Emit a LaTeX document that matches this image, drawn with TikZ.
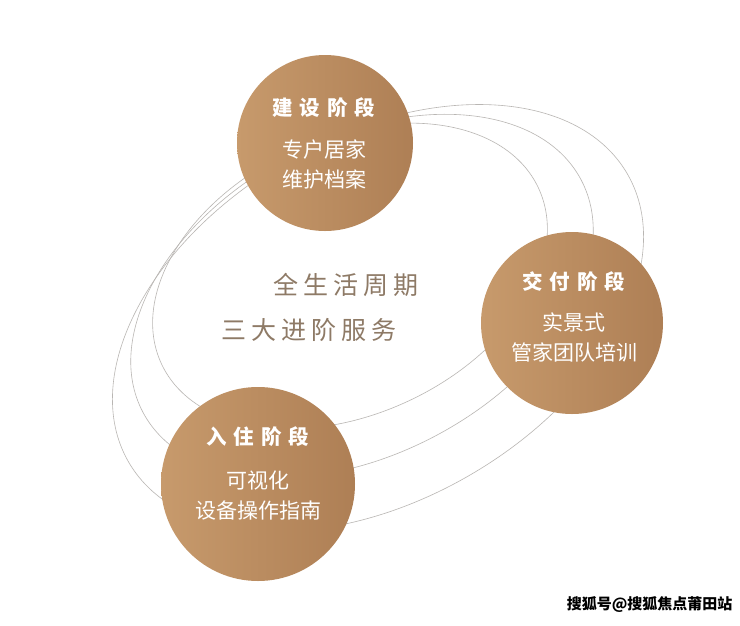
\documentclass[tikz,border=0pt]{standalone}
\usepackage{fontspec}
\newfontfamily\cjk{Noto Sans CJK SC}
\definecolor{bronzeL}{HTML}{C79A6C}
\definecolor{bronzeR}{HTML}{AE7F55}
\definecolor{ringgray}{HTML}{B9B6B3}
\definecolor{slogan}{HTML}{8E7A66}
\newcommand\hgap{\hspace{7pt}}
\newcommand\sgap{\hspace{5pt}}
\begin{document}
\begin{tikzpicture}[x=1pt,y=-1pt,
    ring/.style={draw=ringgray, line width=0.6pt},
    stage/.style={circle, inner sep=0pt, left color=bronzeL, right color=bronzeR},
    head/.style={text=white, font=\cjk\bfseries\fontsize{20.5}{24}\selectfont},
    body/.style={text=white, align=center, font=\cjk\fontsize{21}{30}\selectfont}]
	\useasboundingbox[fill=white] (0,0) rectangle (740,625);
	% orbits
	\draw[ring, rotate around={25:(350,276)}] (350,276) ellipse [x radius=208, y radius=138];
	\draw[ring, rotate around={28:(362,296)}] (362,296) ellipse [x radius=248, y radius=158];
	\draw[ring, rotate around={30:(378,318)}] (378,318) ellipse [x radius=288, y radius=182];
	% stages
	\node[stage, minimum size=176pt] (build) at (325,143) {};
	\node[stage, minimum size=182pt] (deliver) at (572,323) {};
	\node[stage, minimum size=194pt] (livein) at (258,484) {};
	\node[head] (buildhead) at (324,108) {建\hgap 设\hgap 阶\hgap 段};
	\node[body] (buildbody) at (324,164) {专户居家\\维护档案};
	\node[head] (deliverhead) at (574,282) {交\hgap 付\hgap 阶\hgap 段};
	\node[body] (deliverbody) at (574,337) {实景式\\管家团队培训};
	\node[head] (liveinhead) at (258,437) {入\hgap 住\hgap 阶\hgap 段};
	\node[body] (liveinbody) at (258,496) {可视化\\设备操作指南};
	% slogan
	\node[text=slogan, font=\cjk\fontsize{25}{30}\selectfont, anchor=west] (slogan1) at (270,285) {全\sgap 生\sgap 活\sgap 周\sgap 期};
	\node[text=slogan, font=\cjk\fontsize{25}{30}\selectfont, anchor=west] (slogan2) at (218,330) {三\sgap 大\sgap 进\sgap 阶\sgap 服\sgap 务};
	% watermark
	\node[font=\cjk\bfseries\fontsize{15}{18}\selectfont, anchor=east] (mark) at (736,604) {搜狐号@搜狐焦点莆田站};
\end{tikzpicture}
\end{document}
